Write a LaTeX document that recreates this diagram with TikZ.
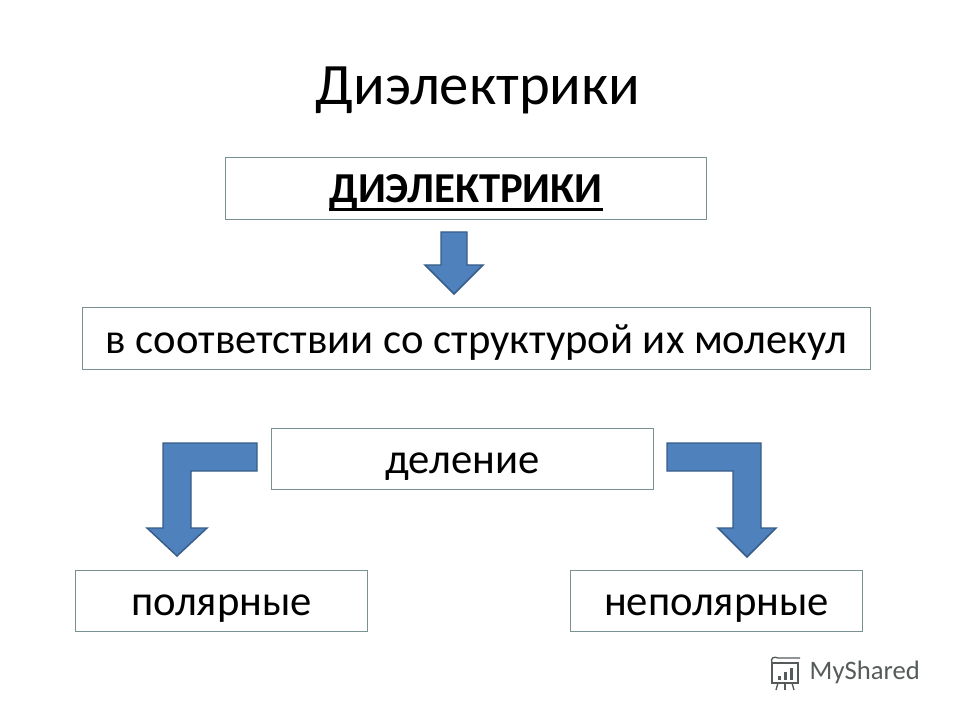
\documentclass[tikz,border=0pt]{standalone}
\usepackage{fontspec}
\setmainfont{Carlito}
\definecolor{boxline}{RGB}{120,145,145}
\definecolor{arrowfill}{RGB}{79,129,189}
\definecolor{arrowline}{RGB}{56,93,138}
\definecolor{wmark}{RGB}{85,90,90}
\newcommand\thickul[1]{\setbox0\hbox{#1}\rlap{\rule[-6.2pt]{\wd0}{2.2pt}}\box0}
\begin{document}
\begin{tikzpicture}[x=0.75pt,y=-0.75pt,
  box/.style={draw=boxline,line width=0.75pt,inner sep=0pt,anchor=north west,
    text height=33.75pt,text depth=12pt,font=\fontsize{32}{36}\selectfont},
  blockarrow/.style={fill=arrowfill,draw=arrowline,line width=1.1pt,line join=miter}]
\useasboundingbox (0,0) rectangle (960,720);
\fill[white] (0,0) rectangle (960,720);
\node[font=\fontsize{44}{50}\selectfont] (title) at (478,90) {Диэлектрики};
\node[box,minimum width=481*0.75pt,minimum height=62*0.75pt] (b1) at (225,157) {\thickul{\textbf{ДИЭЛЕКТРИКИ}}};
\node[box,minimum width=788*0.75pt,minimum height=62*0.75pt] (b2) at (82,307) {в соответствии со структурой их молекул};
\node[box,minimum width=382*0.75pt,minimum height=61*0.75pt] (b3) at (271,428) {деление};
\node[box,minimum width=292*0.75pt,minimum height=61*0.75pt] (b4) at (75,570) {полярные};
\node[box,minimum width=292*0.75pt,minimum height=61*0.75pt] (b5) at (570,570) {неполярные};
% down arrow
\draw[blockarrow] (441,232) -- (467,232) -- (467,265) -- (483,265) -- (454,294) -- (425,265) -- (441,265) -- cycle;
% left bent arrow
\draw[blockarrow] (257,443) -- (257,471) -- (191,471) -- (191,528) -- (207,528) -- (177,556) -- (147,528) -- (163,528) -- (163,443) -- cycle;
% right bent arrow
\draw[blockarrow] (667,443) -- (761,443) -- (761,528) -- (776,528) -- (747,557) -- (718,528) -- (733,528) -- (733,471) -- (667,471) -- cycle;
% watermark
\begin{scope}[draw=wmark,line width=1pt]
\draw (772,663) rectangle (798,683);
\draw (772,663) .. controls (770,658) and (774,656) .. (778,658) -- (800,658);
\fill[wmark] (778,676) rectangle (781,680);
\fill[wmark] (784,672) rectangle (787,680);
\fill[wmark] (790,668) rectangle (793,680);
\draw (778,683) -- (776,690);
\draw (785,683) -- (785,690);
\draw (792,683) -- (794,690);
\end{scope}
\node[anchor=west,text=wmark,font=\fontsize{20}{24}\selectfont] (wm) at (805,672) {MyShared};
\end{tikzpicture}
\end{document}
